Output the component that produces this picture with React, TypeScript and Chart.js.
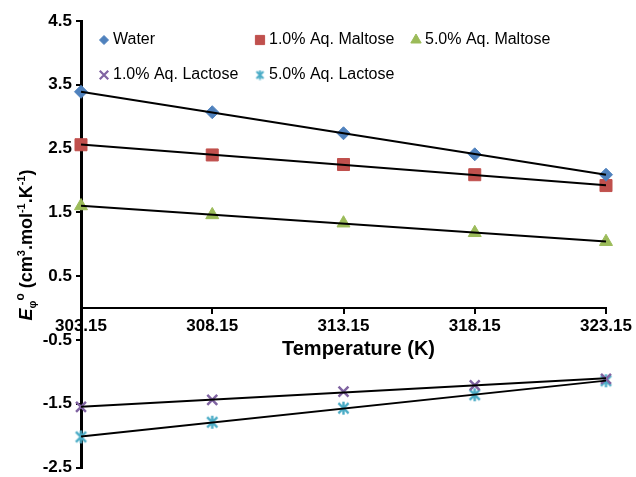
import React, { useEffect, useRef } from 'react';
import { Chart, registerables } from 'chart.js';
import { drawPoint } from 'chart.js/helpers';

Chart.register(...registerables);

// Temperatures (K) and apparent molar expansibility values for each solvent
const temperatures = [303.15, 308.15, 313.15, 318.15, 323.15];
const water = [3.39, 3.07, 2.74, 2.41, 2.09];
const maltose1 = [2.56, 2.4, 2.25, 2.09, 1.92];
const maltose5 = [1.6, 1.46, 1.33, 1.18, 1.04];
const lactose1 = [-1.55, -1.44, -1.31, -1.21, -1.11];
const lactose5 = [-2.02, -1.79, -1.57, -1.36, -1.14];

const seriesLabels = ['Water', '1.0% Aq. Maltose', '5.0% Aq. Maltose', '1.0% Aq. Lactose', '5.0% Aq. Lactose'];
const seriesColors = ['#4F81BD', '#C0504D', '#9BBB59', '#8064A2', '#4BACC6'];

const yMin = -2.5;
const yMax = 4.5;
const yStep = 1;
const xStep = 5;

const xTitle = 'Temperature (K)';
// y title pieces: [text, font size, italic, baseline shift]
const yTitleParts: [string, number, boolean, number][] = [
  ['E', 18, true, 0],
  ['φ', 11, false, 4],
  ['o', 12, false, -8],
  [' (cm', 18, false, 0],
  ['3', 11, false, -7],
  ['.mol', 18, false, 0],
  ['-1', 11, false, -7],
  ['.K', 18, false, 0],
  ['-1', 11, false, -7],
  [')', 18, false, 0],
];

const FONT = "'Liberation Sans', Arial, sans-serif";

function makeAsterisk(size: number, color: string, lw: number) {
  const c = document.createElement('canvas');
  c.width = size;
  c.height = size;
  const g = c.getContext('2d')!;
  g.strokeStyle = color;
  g.lineWidth = lw;
  const m = lw;
  g.beginPath();
  g.moveTo(m, m);
  g.lineTo(size - m, size - m);
  g.moveTo(size - m, m);
  g.lineTo(m, size - m);
  g.moveTo(size / 2, m * 0.4);
  g.lineTo(size / 2, size - m * 0.4);
  g.stroke();
  return c;
}

function trendLine(xs: number[], ys: number[]) {
  const n = xs.length;
  const mx = xs.reduce((a, b) => a + b, 0) / n;
  const my = ys.reduce((a, b) => a + b, 0) / n;
  let sxy = 0;
  let sxx = 0;
  for (let i = 0; i < n; i++) {
    sxy += (xs[i] - mx) * (ys[i] - my);
    sxx += (xs[i] - mx) * (xs[i] - mx);
  }
  const slope = sxy / sxx;
  const at = (x: number) => my + slope * (x - mx);
  return [
    { x: xs[0], y: at(xs[0]) },
    { x: xs[n - 1], y: at(xs[n - 1]) },
  ];
}

export default function App() {
  const ref = useRef<HTMLCanvasElement>(null);

  useEffect(() => {
    if (!ref.current) return;
    const starBig = makeAsterisk(15, seriesColors[4], 2.4);
    const starSmall = makeAsterisk(11, seriesColors[4], 2);

    const seriesValues = [water, maltose1, maltose5, lactose1, lactose5];
    const styles: any[] = [
      { pointStyle: 'rectRot', radius: 6.5, legendRadius: 4.5 },
      { pointStyle: 'rect', radius: 8.5, legendRadius: 6.5 },
      { pointStyle: 'triangle', radius: 7.5, legendRadius: 6 },
      { pointStyle: 'crossRot', radius: 7, legendRadius: 6 },
      { pointStyle: starBig, radius: 8, legendStyle: starSmall, legendRadius: 5 },
    ];

    const markerSets = seriesValues.map((vals, i) => ({
      label: seriesLabels[i],
      data: temperatures.map((t, k) => ({ x: t, y: vals[k] })),
      showLine: false,
      clip: false,
      pointStyle: styles[i].pointStyle,
      pointRadius: styles[i].radius,
      backgroundColor: seriesColors[i],
      borderColor: seriesColors[i],
      pointBorderWidth: i === 3 ? 2.5 : 1,
      order: 1,
    }));

    const lineSets = seriesValues.map((vals, i) => ({
      label: seriesLabels[i] + ' trend',
      data: trendLine(temperatures, vals),
      showLine: true,
      clip: false,
      pointRadius: 0,
      borderColor: '#000',
      borderWidth: 2,
      order: 0,
    }));

    const decor = {
      id: 'decor',
      afterDraw(chart: any) {
        const { ctx, chartArea } = chart;
        ctx.save();
        ctx.fillStyle = '#000';

        // x axis title
        const zeroY = chart.scales.y.getPixelForValue(0);
        ctx.font = `bold 20px ${FONT}`;
        ctx.textAlign = 'center';
        ctx.textBaseline = 'middle';
        ctx.fillText(xTitle, (chartArea.left + chartArea.right) / 2 + 15, zeroY + 41);

        // y axis title, rotated, with sub/superscripts
        const fontFor = (size: number, italic: boolean) => `${italic ? 'italic ' : ''}bold ${size}px ${FONT}`;
        let total = 0;
        for (const [t, s, it] of yTitleParts) {
          ctx.font = fontFor(s, it);
          total += ctx.measureText(t).width;
        }
        ctx.save();
        ctx.translate(32, 245);
        ctx.rotate(-Math.PI / 2);
        ctx.textAlign = 'left';
        ctx.textBaseline = 'alphabetic';
        let px = -total / 2;
        for (const [t, s, it, dy] of yTitleParts) {
          ctx.font = fontFor(s, it);
          ctx.fillText(t, px, dy);
          px += ctx.measureText(t).width;
        }
        ctx.restore();

        // legend in a 3-column grid
        ctx.font = `16px ${FONT}`;
        ctx.textAlign = 'left';
        ctx.textBaseline = 'middle';
        seriesLabels.forEach((label, i) => {
          const col = i < 3 ? i : i - 3;
          const row = i < 3 ? 0 : 1;
          const mx = chartArea.left + 23 + col * 156;
          const my = chartArea.top + 19 + row * 35;
          ctx.fillStyle = seriesColors[i];
          ctx.strokeStyle = seriesColors[i];
          ctx.lineWidth = i === 3 ? 2.2 : 1;
          drawPoint(ctx, {
            pointStyle: styles[i].legendStyle || styles[i].pointStyle,
            rotation: 0,
            radius: styles[i].legendRadius,
            borderWidth: ctx.lineWidth,
          } as any, mx, my);
          ctx.fillStyle = '#000';
          ctx.fillText(label, mx + 9, my);
        });
        ctx.restore();
      },
    };

    const tickFont = { family: FONT, size: 17, weight: 'bold' as const };

    const chart = new Chart(ref.current, {
      type: 'scatter',
      data: { datasets: [...lineSets, ...markerSets] as any },
      options: {
        animation: false,
        responsive: true,
        maintainAspectRatio: false,
        events: [],
        layout: { padding: { top: 21, right: 30, bottom: 9, left: 0 } },
        plugins: {
          legend: { display: false },
          tooltip: { enabled: false },
          title: { display: false },
        },
        scales: {
          x: {
            type: 'linear',
            position: { y: 0 } as any,
            min: temperatures[0],
            max: temperatures[temperatures.length - 1],
            ticks: {
              stepSize: xStep,
              autoSkip: false,
              maxRotation: 0,
              padding: 3,
              color: '#000',
              font: tickFont,
              callback: (v: any) => Number(v).toFixed(2),
            },
            grid: { drawOnChartArea: false, drawTicks: true, tickLength: 5, color: '#000', lineWidth: 2 },
            border: { display: true, color: '#000', width: 2 },
            afterFit: (s: any) => {
              s.paddingLeft = 0;
              s.paddingRight = 0;
            },
          },
          y: {
            type: 'linear',
            min: yMin,
            max: yMax,
            ticks: {
              stepSize: yStep,
              padding: 4,
              color: '#000',
              font: tickFont,
              callback: (v: any) => Number(v).toFixed(1),
            },
            grid: { drawOnChartArea: false, drawTicks: true, tickLength: 5, color: '#000', lineWidth: 2 },
            border: { display: true, color: '#000', width: 3 },
            afterFit: (s: any) => {
              s.width = 81;
              s.paddingTop = 0;
              s.paddingBottom = 0;
            },
          },
        },
      },
      plugins: [decor],
    });

    return () => chart.destroy();
  }, []);

  return (
    <div style={{ position: 'absolute', left: 0, top: 0, width: 636, height: 477, background: '#fff' }}>
      <canvas ref={ref} />
    </div>
  );
}
